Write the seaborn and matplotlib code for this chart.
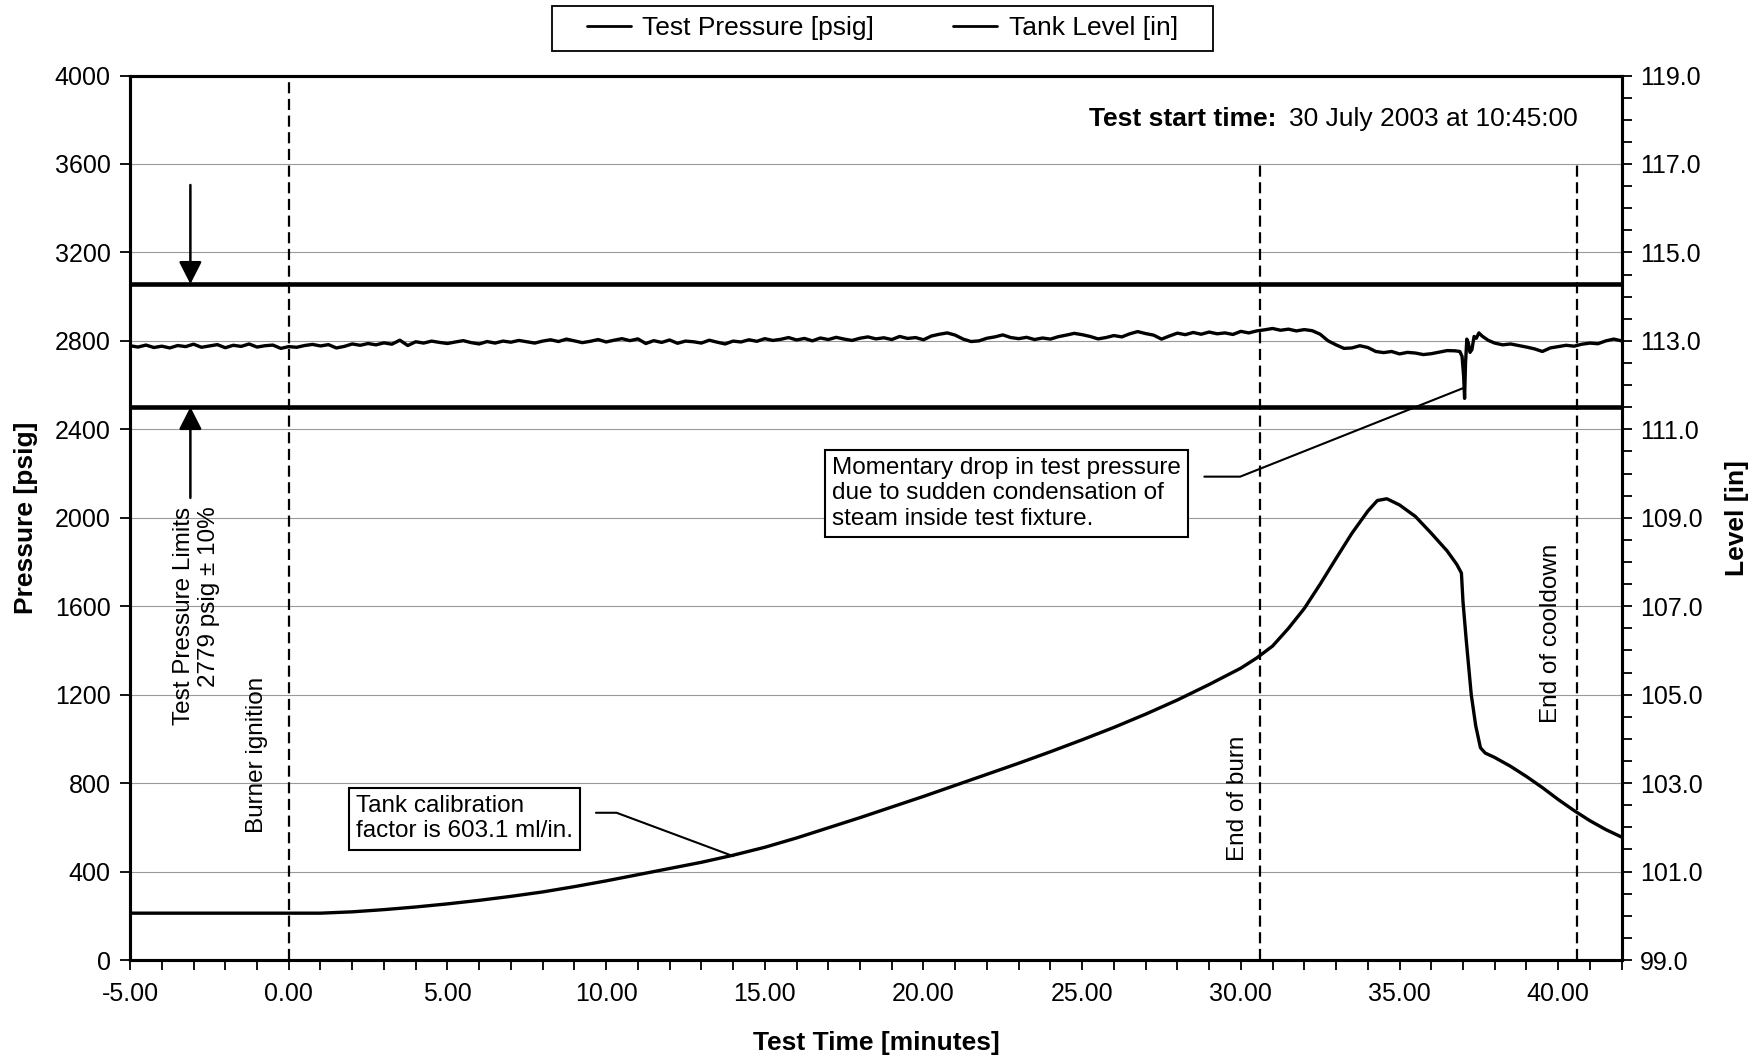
import numpy as np
import pandas as pd
import matplotlib
matplotlib.use("Agg")
import matplotlib.pyplot as plt
import seaborn as sns
from matplotlib.ticker import MultipleLocator, FormatStrFormatter
from matplotlib.lines import Line2D
from matplotlib.patches import Rectangle

# ---------------- data ----------------
# Test pressure [psig], sampled every 0.25 min from -5.00 to 36.75 min
press_grid_start = -5.0
press_grid_step = 0.25
press_grid_vals = [
    2778, 2772, 2781, 2770, 2776, 2768, 2779, 2774,   # -5.0 .. -3.25
    2785, 2771, 2777, 2783, 2769, 2780, 2775, 2786,   # -3.0 .. -1.25
    2772, 2778, 2781, 2766, 2774, 2771, 2779, 2784,   # -1.0 .. 0.75
    2777, 2783, 2768, 2775, 2786, 2780, 2788, 2782,   # 1.0 .. 2.75
    2791, 2785, 2803, 2779, 2796, 2790, 2799, 2793,   # 3.0 .. 4.75
    2788, 2795, 2801, 2792, 2786, 2797, 2790, 2799,   # 5.0 .. 6.75
    2794, 2802, 2796, 2790, 2799, 2805, 2797, 2808,   # 7.0 .. 8.75
    2800, 2792, 2798, 2806, 2795, 2803, 2810, 2801,   # 9.0 .. 10.75
    2809, 2788, 2801, 2793, 2804, 2789, 2799, 2796,   # 11.0 .. 12.75
    2790, 2803, 2794, 2786, 2799, 2795, 2805, 2798,   # 13.0 .. 14.75
    2810, 2802, 2807, 2815, 2804, 2811, 2800, 2813,   # 15.0 .. 16.75
    2806, 2816, 2808, 2802, 2812, 2818, 2809, 2814,   # 17.0 .. 18.75
    2806, 2820, 2811, 2815, 2805, 2822, 2830, 2836,   # 19.0 .. 20.75
    2826, 2808, 2797, 2800, 2812, 2818, 2827, 2815,   # 21.0 .. 22.75
    2810, 2816, 2806, 2813, 2808, 2819, 2826, 2834,   # 23.0 .. 24.75
    2828, 2820, 2809, 2815, 2824, 2818, 2832, 2842,   # 25.0 .. 26.75
    2833, 2826, 2808, 2822, 2835, 2828, 2838, 2830,   # 27.0 .. 28.75
    2840, 2832, 2836, 2829, 2843, 2836, 2845, 2850,   # 29.0 .. 30.75
    2856, 2848, 2853, 2845, 2851, 2846, 2830, 2800,   # 31.0 .. 32.75
    2782, 2766, 2768, 2778, 2770, 2752, 2747, 2752,   # 33.0 .. 34.75
    2741, 2748, 2745, 2738, 2742, 2749, 2756, 2755,   # 35.0 .. 36.75
]
# irregularly read tail (spike and cooldown)
press_tail_t = [36.9, 36.97, 37.02, 37.05, 37.08, 37.12, 37.17, 37.22, 37.28,
                37.35, 37.42, 37.5, 37.6, 37.8, 38.0, 38.25, 38.5, 38.75,
                39.0, 39.25, 39.5, 39.75, 40.0, 40.25, 40.5, 40.75, 41.0,
                41.25, 41.5, 41.75, 42.0]
press_tail_v = [2752, 2730, 2640, 2540, 2700, 2808, 2790, 2748, 2760,
                2820, 2812, 2836, 2822, 2802, 2790, 2782, 2786, 2779,
                2772, 2764, 2752, 2768, 2774, 2780, 2776, 2785, 2790,
                2787, 2800, 2808, 2800]

# Tank level [in]
level_t = [-5, -4, -3, -2, -1, 0, 1, 2, 3, 4, 5, 6, 7, 8, 9, 10, 11, 12, 13,
           14, 15, 16, 17, 18, 19, 20, 21, 22, 23, 24, 25, 26, 27, 28, 29, 30,
           30.5, 31, 31.5, 32, 32.5, 33, 33.5, 34, 34.3, 34.6, 35, 35.5, 36,
           36.5, 36.8, 36.95, 37.0, 37.1, 37.26, 37.4, 37.55, 37.7, 38, 38.5,
           39, 39.5, 40, 40.5, 41, 41.5, 42]
level_in = [100.06, 100.06, 100.06, 100.06, 100.06, 100.06, 100.06, 100.09,
            100.14, 100.20, 100.27, 100.35, 100.44, 100.54, 100.66, 100.79,
            100.93, 101.07, 101.21, 101.37, 101.55, 101.76, 101.99, 102.22,
            102.46, 102.70, 102.95, 103.20, 103.45, 103.71, 103.98, 104.26,
            104.56, 104.88, 105.23, 105.60, 105.83, 106.10, 106.50, 106.95,
            107.50, 108.08, 108.65, 109.15, 109.39, 109.43, 109.29, 109.03,
            108.65, 108.25, 107.95, 107.75, 107.10, 106.25, 105.00, 104.30,
            103.80, 103.68, 103.58, 103.38, 103.15, 102.90, 102.63, 102.38,
            102.15, 101.95, 101.78]

limit_upper = 3056.9   # 2779 + 10 %
limit_lower = 2501.1   # 2779 - 10 %

event_t = [0.0, 30.6, 40.6]
event_labels = ["Burner ignition", "End of burn", "End of cooldown"]

x_ticks = [-5, 0, 5, 10, 15, 20, 25, 30, 35, 40]
level_ticks = [99, 101, 103, 105, 107, 109, 111, 113, 115, 117, 119]

# ---------------- style ----------------
sns.set_theme(style="white")
plt.rcParams["font.family"] = ["Liberation Sans", "DejaVu Sans"]
plt.rcParams["axes.edgecolor"] = "black"
plt.rcParams["xtick.color"] = "black"
plt.rcParams["ytick.color"] = "black"
plt.rcParams["text.color"] = "black"
plt.rcParams["axes.labelcolor"] = "black"

press_t = list(np.arange(len(press_grid_vals)) * press_grid_step + press_grid_start) + press_tail_t
press_v = press_grid_vals + press_tail_v
df_p = pd.DataFrame({"t": press_t, "pressure": press_v})
df_l = pd.DataFrame({"t": level_t, "level": level_in})

fig = plt.figure(figsize=(17.65, 10.62), dpi=100)
ax = fig.add_axes([0.0737, 0.0960, 0.8451, 0.8329])

# grid
ax.set_axisbelow(True)
ax.yaxis.grid(True, which="major", color="#9a9a9a", lw=0.8)
ax.xaxis.grid(False)

# limit lines
ax.axhline(limit_upper, color="black", lw=3.3, zorder=3)
ax.axhline(limit_lower, color="black", lw=3.3, zorder=3)

# event lines
ax.vlines(event_t[0], 0, 4000, colors="black", lw=1.6, linestyles=(0, (5, 2.5)), zorder=2)
ax.vlines(event_t[1:], 0, 3600, colors="black", lw=1.6, linestyles=(0, (5, 2.5)), zorder=2)

# pressure series
sns.lineplot(data=df_p, x="t", y="pressure", ax=ax, color="black", lw=2.4,
             legend=False, zorder=4)

ax.set_xlim(-5, 42)
ax.set_ylim(0, 4000)
ax.set_xticks(x_ticks)
ax.xaxis.set_major_formatter(FormatStrFormatter("%.2f"))
ax.xaxis.set_minor_locator(MultipleLocator(1))
ax.yaxis.set_major_locator(MultipleLocator(400))

ax2 = ax.twinx()
sns.lineplot(data=df_l, x="t", y="level", ax=ax2, color="black", lw=2.4, legend=False)
ax2.set_ylim(99, 119)
ax2.set_yticks(level_ticks)
ax2.yaxis.set_minor_locator(MultipleLocator(0.5))
ax2.yaxis.set_major_formatter(FormatStrFormatter("%.1f"))
ax2.set_xlim(-5, 42)

for a in (ax, ax2):
    for s in a.spines.values():
        s.set_linewidth(2.2)
        s.set_color("black")

ax.tick_params(axis="x", which="both", direction="out", length=7, width=1.3,
               pad=9, labelsize=18, bottom=True, top=False)
ax.tick_params(axis="y", which="major", direction="out", length=7, width=1.3,
               pad=7, labelsize=18, left=True, right=False)
ax2.tick_params(axis="y", which="both", direction="out", length=7, width=1.3,
                pad=6, labelsize=18, right=True, left=False)

ax.set_xlabel("Test Time [minutes]", fontsize=19, fontweight="bold", labelpad=18)
ax.set_ylabel("Pressure [psig]", fontsize=19, fontweight="bold", labelpad=12)
ax2.set_ylabel("Level [in]", fontsize=19, fontweight="bold", labelpad=16)

# ---------------- annotations ----------------
fs = 17.5
ax.text(-1.0, 574, event_labels[0], rotation=90, ha="center", va="bottom", fontsize=fs)
ax.text(29.9, 448, event_labels[1], rotation=90, ha="center", va="bottom", fontsize=fs)
ax.text(39.77, 1074, event_labels[2], rotation=90, ha="center", va="bottom", fontsize=fs)

ax.text(-2.9, 2050, "Test Pressure Limits\n2779 psig \u00b1 10%", rotation=90,
        ha="center", va="top", multialignment="right", fontsize=fs)

arrow_kw = dict(arrowstyle="-|>,head_length=0.55,head_width=0.28", color="black",
                lw=1.8, mutation_scale=25, shrinkA=0, shrinkB=0)
ax.annotate("", xy=(-3.1, limit_upper), xytext=(-3.1, 3505), arrowprops=arrow_kw)
ax.annotate("", xy=(-3.1, limit_lower), xytext=(-3.1, 2090), arrowprops=arrow_kw)

box_kw = dict(boxstyle="square,pad=0.3", fc="white", ec="black", lw=1.5)
ax.text(17.12, 2275, "Momentary drop in test pressure\ndue to sudden condensation of\nsteam inside test fixture.",
        ha="left", va="top", fontsize=fs, bbox=box_kw, zorder=6)
ax.plot([28.85, 29.98, 37.0], [2186, 2186, 2586], color="black", lw=1.5, zorder=5)

ax.text(2.12, 746, "Tank calibration\nfactor is 603.1 ml/in.",
        ha="left", va="top", fontsize=fs, bbox=box_kw, zorder=6)
ax.plot([9.68, 10.33, 14.0], [666, 666, 470], color="black", lw=1.5, zorder=5)

t_norm = ax.text(0.9707, 0.951, "30 July 2003 at 10:45:00", transform=ax.transAxes,
                 ha="right", va="center", fontsize=19)
ax.annotate("Test start time:", xy=(0, 0.5), xycoords=t_norm, xytext=(-9, 0),
            textcoords="offset points", ha="right", va="center",
            fontsize=19, fontweight="bold")

# ---------------- legend ----------------
fig.patches.append(Rectangle((0.3125, 0.9523), 0.375, 0.0425, transform=fig.transFigure,
                             fill=False, ec="black", lw=1.3))
handles = [Line2D([], [], color="black", lw=2.0), Line2D([], [], color="black", lw=2.0)]
fig.legend(handles, ["Test Pressure [psig]", "Tank Level [in]"], loc="center",
           bbox_to_anchor=(0.5, 0.9735), ncol=2, frameon=False, fontsize=19,
           handlelength=1.65, handletextpad=0.45, columnspacing=3.0)

fig.savefig("out.png", dpi=100)
